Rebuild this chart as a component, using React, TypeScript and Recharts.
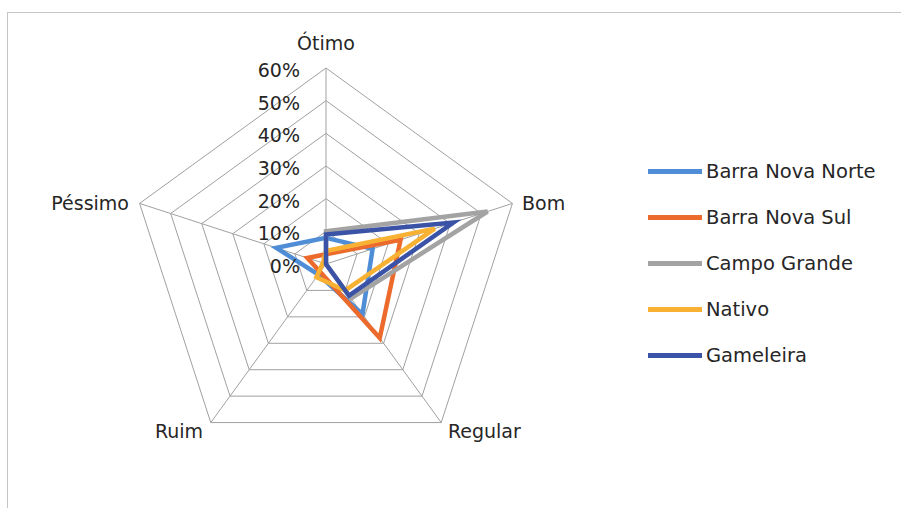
import React from "react";
import {
  RadarChart,
  Radar,
  PolarGrid,
  PolarAngleAxis,
  PolarRadiusAxis,
  Legend,
} from "recharts";

// categories on the spider axes (clockwise from top)
const categories = ["Ótimo", "Bom", "Regular", "Ruim", "Péssimo"];

// share of answers per locality (%)
const barraNovaNorte = [8, 15, 19, 4, 16];
const barraNovaSul = [3, 24, 28, 3, 6];
const campoGrande = [10, 52, 13, 0, 0];
const nativo = [4, 35, 10, 5, 1];
const gameleira = [9, 41, 12, 0, 0];

const radiusTicks = [0, 10, 20, 30, 40, 50, 60];

const series = [
  { key: "norte", name: "Barra Nova Norte", values: barraNovaNorte, color: "#4F8ED6" },
  { key: "sul", name: "Barra Nova Sul", values: barraNovaSul, color: "#EB6A2C" },
  { key: "campo", name: "Campo Grande", values: campoGrande, color: "#A3A3A3" },
  { key: "nativo", name: "Nativo", values: nativo, color: "#F8B133" },
  { key: "gameleira", name: "Gameleira", values: gameleira, color: "#3A53A6" },
];

const data = categories.map((category, i) => {
  const row: Record<string, string | number> = { category };
  series.forEach((s) => {
    row[s.key] = s.values[i];
  });
  return row;
});

const CX = 326;
const CY = 264;
const FONT = "'DejaVu Sans', sans-serif";
const TEXT = "#262626";

const AngleTick = (props: any) => {
  const { x, y, textAnchor, payload } = props;
  let dx = 0;
  let dy = 2;
  if (textAnchor === "middle") dy = y < CY ? -17 : 14;
  if (textAnchor === "start") dx = 2;
  if (textAnchor === "end") dx = -3;
  return (
    <text
      x={x + dx}
      y={y + dy}
      textAnchor={textAnchor}
      dominantBaseline="central"
      fontFamily={FONT}
      fontSize={19}
      fill={TEXT}
    >
      {payload.value}
    </text>
  );
};

const RadiusTick = (props: any) => {
  const { x, y, payload } = props;
  return (
    <text
      x={x - 26}
      y={y + 2}
      textAnchor="end"
      dominantBaseline="central"
      fontFamily={FONT}
      fontSize={19}
      fill={TEXT}
    >
      {payload.value}%
    </text>
  );
};

const renderLegend = () => (
  <div style={{ fontFamily: FONT, fontSize: 19.5, color: TEXT }}>
    {series.map((s) => (
      <div
        key={s.key}
        style={{ display: "flex", alignItems: "center", height: 46 }}
      >
        <span
          style={{
            display: "inline-block",
            width: 54,
            height: 5,
            background: s.color,
            marginRight: 4,
          }}
        />
        <span style={{ whiteSpace: "nowrap" }}>{s.name}</span>
      </div>
    ))}
  </div>
);

export default function App() {
  return (
    <div
      style={{
        position: "fixed",
        left: 0,
        top: 0,
        width: 901,
        height: 508,
        background: "#fff",
        overflow: "hidden",
      }}
    >
      <div
        style={{
          position: "absolute",
          left: 7,
          top: 12,
          width: 900,
          height: 510,
          border: "1px solid #c6c6c6",
        }}
      />
      <div style={{ position: "absolute", left: 0, top: 0 }}>
        <RadarChart
          width={901}
          height={508}
          data={data}
          cx={CX}
          cy={CY}
          outerRadius={196}
          startAngle={90}
          endAngle={-270}
        >
          <PolarGrid gridType="polygon" stroke="#a0a0a0" strokeWidth={1} />
          <PolarAngleAxis dataKey="category" tick={<AngleTick />} tickLine={false} />
          <PolarRadiusAxis
            angle={90}
            type="number"
            domain={[0, 60]}
            allowDataOverflow
            ticks={radiusTicks}
            tickCount={7}
            axisLine={false}
            tickLine={false}
            tick={<RadiusTick />}
          />
          {series.map((s) => (
            <Radar
              key={s.key}
              name={s.name}
              dataKey={s.key}
              stroke={s.color}
              strokeWidth={4.5}
              fill="none"
              fillOpacity={0}
              dot={false}
              isAnimationActive={false}
            />
          ))}
          <Legend
            layout="vertical"
            content={renderLegend}
            wrapperStyle={{ left: 648, top: 148, width: 250 }}
          />
        </RadarChart>
      </div>
    </div>
  );
}
